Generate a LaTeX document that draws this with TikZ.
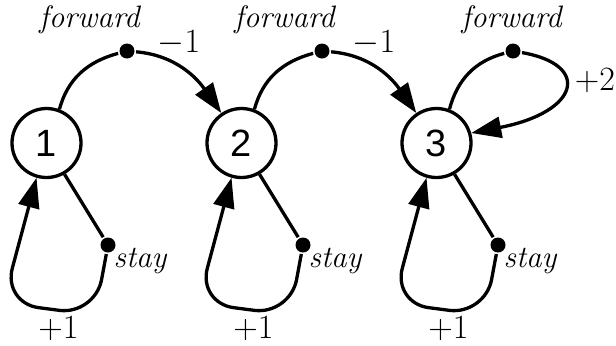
\documentclass[tikz,border=0pt]{standalone}
\usepackage{fontspec}
\newfontfamily\numfont{Liberation Sans}
\usetikzlibrary{arrows.meta}
\tikzset{
  >={Triangle[length=15pt,width=10.5pt]},
  statenode/.style={circle,draw,minimum size=34.5pt,inner sep=0pt,
    font=\numfont\fontsize{19}{19}\selectfont},
  choicedot/.style={circle,fill,minimum size=7.5pt,inner sep=0pt},
  lbl/.style={inner sep=0pt,font=\rmfamily\fontsize{17}{17}\selectfont},
  movelbl/.style={inner sep=0pt,font=\rmfamily\itshape\fontsize{15.5}{15.5}\selectfont},
}

\begin{document}
\begin{tikzpicture}[x=0.5pt,y=0.5pt,line width=1.65pt]
    \useasboundingbox (0,0) rectangle (616,345);
    % states
    \node[statenode] (c1) at (46.5,202) {1};
    \node[statenode] (c2) at (241.5,202) {2};
    \node[statenode] (c3) at (436.5,202) {3};
    % choice points
    \foreach \i/\x in {1/127,2/322,3/513}
      \node[choicedot] (f\i) at (\x,294) {};
    \foreach \i/\x in {1/108,2/303,3/498}
      \node[choicedot] (s\i) at (\x,100) {};
    % forward moves
    \draw (c1.69) to[out=75,in=195] (f1);
    \draw[->] (f1) to[out=-5,in=125] (c2.124);
    \draw (c2.69) to[out=75,in=195] (f2);
    \draw[->] (f2) to[out=-5,in=125] (c3.124);
    \draw (c3.69) to[out=75,in=195] (f3);
    \draw[->] (f3) .. controls +(-10:80) and +(11:110) .. (c3.16);
    % stay moves
    \foreach \i in {1,2,3}{
      \draw (c\i.-60) -- (s\i);
      \draw[->,rounded corners=18pt] (s\i) -- ++(-13,-70) -- ++(-92,12) -- (c\i.-106);
    }
    % labels
    \foreach \i/\x in {1/89.5,2/284.5,3/511.7}
      \node[movelbl,anchor=base] (fw\i) at (\x,318) {forward};
    \foreach \i/\x in {1/112,2/307,3/502}
      \node[movelbl,anchor=base west] (st\i) at (\x,78) {stay};
    \foreach \i/\x in {1/179,2/374}
      \node[lbl,anchor=base] (m\i) at (\x,292.3) {$-$1};
    \node[lbl,anchor=base] (p2) at (595,255) {+2};
    \foreach \i/\x in {1/58.5,2/253.5,3/448.5}
      \node[lbl,anchor=base] (p\i1) at (\x,7) {+1};
\end{tikzpicture}
\end{document}
